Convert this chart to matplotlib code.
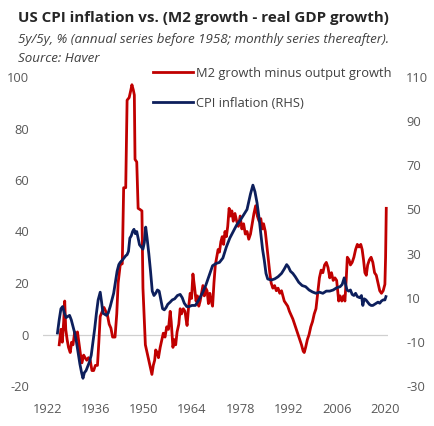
import matplotlib
matplotlib.use("Agg")
import matplotlib.pyplot as plt

plt.rcParams['font.family'] = ['Open Sans', 'DejaVu Sans']
plt.rcParams['axes.unicode_minus'] = False

# M2 growth minus output growth, 5y/5y % (left axis)
m2_years = [1925.5, 1926.0, 1926.4, 1926.8, 1927.1, 1927.4, 1927.8, 1928.2, 1928.7, 1929.1,
            1929.5, 1930.0, 1930.4, 1930.8, 1931.3, 1931.7, 1932.1, 1932.6, 1933.0, 1933.5,
            1934.0, 1934.5, 1935.0, 1935.5, 1936.0, 1936.6, 1937.0, 1937.4, 1938.0, 1938.5,
            1939.0, 1939.5, 1940.0, 1940.5, 1941.0, 1941.7, 1942.2, 1942.6, 1943.2, 1943.8,
            1944.2, 1944.8, 1945.2, 1945.8, 1946.3, 1946.6, 1947.0, 1947.3, 1947.5, 1948.0,
            1948.4, 1949.0, 1949.5, 1949.8, 1950.2, 1950.5, 1951.0, 1951.5, 1952.0, 1952.4,
            1952.8, 1953.2, 1953.5, 1953.9, 1954.3, 1954.8, 1955.3, 1955.7, 1956.2, 1956.7,
            1957.2, 1957.7, 1958.0, 1958.5, 1958.9, 1959.3, 1959.7, 1960.2, 1960.6, 1961.0,
            1961.5, 1962.0, 1962.3, 1962.6, 1963.0, 1963.5, 1963.9, 1964.3, 1964.8, 1965.2,
            1965.6, 1966.0, 1966.4, 1966.8, 1967.2, 1967.6, 1968.0, 1968.4, 1968.8, 1969.2,
            1969.6, 1970.0, 1970.4, 1970.8, 1971.2, 1971.6, 1972.0, 1972.4, 1972.8, 1973.2,
            1973.6, 1974.0, 1974.4, 1974.8, 1975.2, 1975.6, 1976.0, 1976.5, 1977.0, 1977.5,
            1978.0, 1978.5, 1979.0, 1979.5, 1980.0, 1980.5, 1981.0, 1981.5, 1982.0, 1982.5,
            1983.0, 1983.5, 1984.0, 1984.4, 1984.8, 1985.3, 1985.7, 1986.1, 1986.6, 1987.0,
            1987.5, 1988.0, 1988.5, 1989.0, 1989.5, 1990.0, 1990.4, 1990.8, 1991.3, 1991.8,
            1992.3, 1992.8, 1993.3, 1993.8, 1994.3, 1994.8, 1995.3, 1995.8, 1996.3, 1996.6,
            1997.0, 1997.5, 1998.0, 1998.5, 1999.0, 1999.5, 2000.0, 2000.5, 2001.0, 2001.5,
            2002.0, 2002.5, 2003.0, 2003.5, 2004.0, 2004.5, 2005.0, 2005.5, 2006.0, 2006.3,
            2006.6, 2007.0, 2007.5, 2008.0, 2008.4, 2008.8, 2009.1, 2009.6, 2010.0, 2010.5,
            2011.0, 2011.5, 2012.0, 2012.5, 2013.0, 2013.4, 2013.8, 2014.2, 2014.6, 2015.0,
            2015.5, 2016.0, 2016.5, 2017.0, 2017.5, 2018.0, 2018.5, 2019.0, 2019.5, 2020.0,
            2020.2, 2020.4]
m2_values = [-4, 2, -3, 5, 13, 2, -2, -5, -7, -3,
             -4, 1, -2, 1, -4, -8, -11, -8, -9, -10,
             -9, -10, -14, -14, -12, -12, -3, 7, 9, 10.5,
             9, 7.5, 4, 2.5, -1, -1, 8, 20, 27, 27.5,
             57, 57, 91, 92, 95, 97, 95, 93, 68, 67,
             49, 48.5, 48, 18, 5, -4, -7, -10, -13, -15.5,
             -12, -10, -6, -7, -9, -5, -2, 0.5, -1, 3,
             2, 9, 5, -5, -2, -4, 1, 4, 10, 8,
             10, 9, 6, 3.5, 10, 16, 14, 23.5, 18, 13,
             15, 11, 13, 16, 19, 15, 18, 17, 12, 16,
             13, 11, 20, 27, 30, 33, 32, 36, 38, 35,
             40, 38, 42, 49, 46, 48, 44, 47, 44, 42,
             46, 41, 43, 39, 40, 37, 39, 43, 47, 50,
             46, 44, 45, 41, 43, 40, 35, 30, 24, 20,
             18, 19, 17, 18, 16, 17, 15, 13, 12, 11,
             9, 7.5, 6, 4, 2, 0, -2, -4, -6.5, -7,
             -5, -2, 0, 3, 5, 8, 10, 16, 22, 25,
             24, 27, 28, 26, 22, 24, 21, 22, 21, 17,
             13, 15, 13, 15, 13, 22, 30, 29, 27, 28,
             30, 33, 35, 34, 35, 33, 29, 24, 23, 27,
             29, 30, 28, 24, 23, 20, 17, 16, 17, 19.5,
             30, 49]

# CPI inflation, 5y/5y % (right axis)
cpi_years = [1925.0, 1925.5, 1926.0, 1926.5, 1927.0, 1927.5, 1928.0, 1928.5, 1929.0, 1929.5,
             1930.0, 1930.5, 1931.0, 1931.5, 1932.0, 1932.4, 1932.8, 1933.3, 1933.8, 1934.3,
             1934.8, 1935.3, 1935.8, 1936.3, 1936.8, 1937.4, 1937.8, 1938.2, 1938.7, 1939.2,
             1939.7, 1940.3, 1940.8, 1941.3, 1941.8, 1942.3, 1942.8, 1943.2, 1943.8, 1944.3,
             1944.8, 1945.2, 1945.6, 1946.0, 1946.4, 1946.8, 1947.2, 1947.6, 1948.0, 1948.4,
             1948.8, 1949.3, 1949.8, 1950.2, 1950.6, 1951.0, 1951.5, 1952.0, 1952.5, 1953.0,
             1953.5, 1954.0, 1954.5, 1955.0, 1955.5, 1956.0, 1956.5, 1957.0, 1957.7, 1958.3,
             1959.0, 1959.8, 1960.6, 1961.2, 1961.8, 1962.5, 1963.2, 1964.0, 1965.0, 1966.0,
             1967.0, 1968.0, 1969.0, 1970.0, 1971.0, 1972.0, 1973.0, 1974.0, 1975.0, 1976.0,
             1977.0, 1978.0, 1979.0, 1980.0, 1981.0, 1981.7, 1982.3, 1982.9, 1983.5, 1984.0,
             1984.5, 1985.0, 1985.5, 1986.0, 1987.0, 1988.0, 1989.0, 1990.0, 1990.8, 1991.5,
             1992.0, 1992.6, 1993.3, 1994.0, 1995.0, 1996.0, 1997.0, 1998.0, 1999.0, 2000.0,
             2001.0, 2002.0, 2003.0, 2004.0, 2005.0, 2006.0, 2007.0, 2007.6, 2008.2, 2008.6,
             2009.0, 2009.5, 2010.0, 2010.5, 2011.0, 2011.5, 2012.0, 2012.7, 2013.2, 2013.6,
             2014.0, 2014.5, 2015.0, 2015.5, 2016.0, 2016.5, 2017.0, 2017.5, 2018.0, 2018.5,
             2019.0, 2019.5, 2020.0, 2020.3]
cpi_values = [-6, 0, 5, 6, 3, 1, 1.5, 2, 0, -3,
              -6, -10, -15, -20, -24, -26.5, -24, -23, -21, -19,
              -16, -10, -4, 3, 9, 12.5, 8, 3, 2.5, 2,
              3, 6, 9, 12, 17, 22, 25, 26, 27, 28,
              29, 29.5, 31, 37, 38, 40, 41, 39, 40, 37,
              34, 33, 32, 35, 42, 37, 30, 22, 13, 11,
              12, 13.5, 13, 9, 5, 4.5, 5.5, 7, 8, 9,
              9.5, 11, 11.5, 10, 7.5, 6, 6, 6.5, 6.5, 9,
              12, 15.5, 20, 24.5, 25.5, 26, 28, 33, 37, 40,
              43, 45, 47.5, 50, 57, 61, 58, 53, 46, 39,
              32, 27, 21, 18.5, 18, 18.5, 19.5, 21, 23, 25,
              24, 22, 21, 19.5, 17, 15.5, 15, 13.5, 12.6, 12,
              12.5, 12, 13, 13, 13.5, 14.5, 15, 16, 19, 16,
              13.5, 13, 13.5, 11.5, 11, 12, 10.5, 10, 11, 6.5,
              9.5, 9, 8, 7, 6.5, 6.5, 7, 7.5, 8, 7.5,
              8.5, 9, 9, 10.5]

left_ticks = [-20, 0, 20, 40, 60, 80, 100]
right_ticks = [-30, -10, 10, 30, 50, 70, 90, 110]
year_ticks = [1922, 1936, 1950, 1964, 1978, 1992, 2006, 2020]

red = '#C00000'
navy = '#0D1F5C'
grey = '#595959'

fig = plt.figure(figsize=(4.35, 4.26), dpi=100)
ax = fig.add_axes([43 / 435, 1 - 386 / 426, 345 / 435, 309 / 426])
ax2 = ax.twinx()

ax.axhline(0, color='#d0d0d0', lw=0.9, zorder=0)
l1, = ax.plot(m2_years, m2_values, color=red, lw=2.0,
              label='M2 growth minus output growth')
l2, = ax2.plot(cpi_years, cpi_values, color=navy, lw=2.0,
               label='CPI inflation (RHS)')

ax.set_xlim(1920.8, 2020.9)
ax.set_ylim(-20, 100)
ax2.set_ylim(-30, 110)
ax.set_xticks(year_ticks)
ax.set_yticks(left_ticks)
ax2.set_yticks(right_ticks)

for a in (ax, ax2):
    for s in a.spines.values():
        s.set_visible(False)
    a.tick_params(length=0, labelsize=9.3, labelcolor=grey)
ax.tick_params(axis='y', pad=10)
ax.tick_params(axis='x', pad=12)
ax2.tick_params(axis='y', pad=13)

fig.text(18 / 435, 1 - 18 / 426, 'US CPI inflation vs. (M2 growth - real GDP growth)',
         fontsize=10.9, fontweight='bold', color='#262626', va='center')
fig.text(18 / 435, 1 - 39 / 426,
         '5y/5y, % (annual series before 1958; monthly series thereafter).',
         fontsize=9.6, style='italic', color='#404040', va='center')
fig.text(18 / 435, 1 - 58 / 426, 'Source: Haver',
         fontsize=9.6, style='italic', color='#404040', va='center')

fig.legend(handles=[l1, l2], loc='upper left',
           bbox_to_anchor=(153 / 435, 1 - 67 / 426), frameon=False,
           fontsize=9.3, labelcolor='#404040', handlelength=3.1, handletextpad=0.25,
           labelspacing=1.3, borderpad=0, borderaxespad=0)

fig.savefig('out.png', dpi=100)
